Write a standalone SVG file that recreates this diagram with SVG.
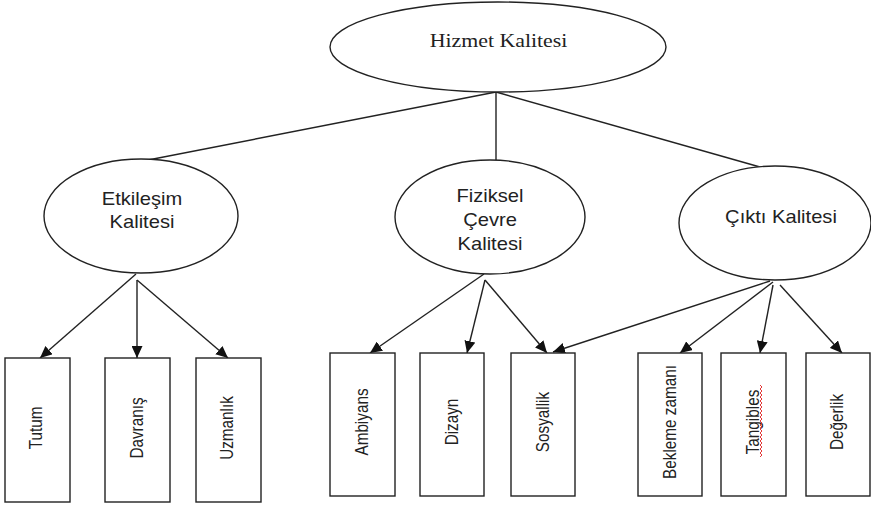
<svg xmlns="http://www.w3.org/2000/svg" width="871" height="506" viewBox="0 0 871 506">
<style>
.n{fill:#fff;stroke:#222;stroke-width:1.4}
.c{stroke:#222;stroke-width:1.4;fill:none}
.s{font-family:"Liberation Sans",Arial,sans-serif;font-size:17.5px;fill:#222;text-anchor:middle}
.v{font-family:"Liberation Sans",Arial,sans-serif;font-size:15.3px;fill:#222;text-anchor:middle}
.t{font-family:"Liberation Serif","Times New Roman",serif;font-size:19px;fill:#222;text-anchor:middle}
</style>
<defs>
<marker id="ah" markerUnits="userSpaceOnUse" markerWidth="12" markerHeight="11" refX="12" refY="5.5" orient="auto">
<path d="M0,0 L12,5.5 L0,11 z" fill="#111"/>
</marker>
</defs>
<rect width="871" height="506" fill="#fff"/>
<g id="connectors">
<line class="c" x1="496" y1="92" x2="496" y2="160"/>
<line class="c" x1="496" y1="92" x2="143" y2="161"/>
<line class="c" x1="496" y1="92" x2="760" y2="167"/>
<line class="c" x1="136" y1="274" x2="40" y2="358" marker-end="url(#ah)"/>
<line class="c" x1="137" y1="280" x2="137" y2="358" marker-end="url(#ah)"/>
<line class="c" x1="137" y1="280" x2="228" y2="358" marker-end="url(#ah)"/>
<line class="c" x1="484" y1="274" x2="370" y2="353" marker-end="url(#ah)"/>
<line class="c" x1="485" y1="280" x2="467" y2="353" marker-end="url(#ah)"/>
<line class="c" x1="485" y1="280" x2="547" y2="353" marker-end="url(#ah)"/>
<line class="c" x1="770" y1="281" x2="553" y2="352" marker-end="url(#ah)"/>
<line class="c" x1="773" y1="282" x2="680" y2="353" marker-end="url(#ah)"/>
<line class="c" x1="773" y1="285" x2="760" y2="353" marker-end="url(#ah)"/>
<line class="c" x1="780" y1="285" x2="842" y2="353" marker-end="url(#ah)"/>
</g>
<g id="hizmet">
<ellipse class="n" cx="498" cy="47" rx="168" ry="45"/>
<text class="t" transform="translate(498.5,47) scale(1.15,1)">Hizmet Kalitesi</text>
</g>
<g id="etkilesim">
<ellipse class="n" cx="141" cy="216" rx="97" ry="57"/>
<text class="s" transform="translate(142,205) scale(1.15,1)">Etkileşim</text>
<text class="s" transform="translate(142,228) scale(1.15,1)">Kalitesi</text>
</g>
<g id="fiziksel">
<ellipse class="n" cx="490" cy="217" rx="95" ry="57"/>
<text class="s" transform="translate(490,202) scale(1.15,1)">Fiziksel</text>
<text class="s" transform="translate(490,226) scale(1.15,1)">Çevre</text>
<text class="s" transform="translate(490,250) scale(1.15,1)">Kalitesi</text>
</g>
<g id="cikti">
<ellipse class="n" cx="775" cy="223" rx="96" ry="57"/>
<text class="s" transform="translate(781,223) scale(1.15,1)">Çıktı Kalitesi</text>
</g>
<g id="tutum">
<rect class="n" x="5" y="358" width="65" height="144"/>
<text class="v" transform="translate(35.5,428) scale(1.2,1) rotate(-90)" y="5.5">Tutum</text>
</g>
<g id="davranis">
<rect class="n" x="105" y="358" width="65" height="144"/>
<text class="v" transform="translate(136.5,428) scale(1.2,1) rotate(-90)" y="5.5">Davranış</text>
</g>
<g id="uzmanlik">
<rect class="n" x="196" y="358" width="65" height="144"/>
<text class="v" transform="translate(226.5,428) scale(1.2,1) rotate(-90)" y="5.5">Uzmanlık</text>
</g>
<g id="ambiyans">
<rect class="n" x="330" y="353" width="65" height="143"/>
<text class="v" transform="translate(361.5,422) scale(1.2,1) rotate(-90)" y="5.5">Ambiyans</text>
</g>
<g id="dizayn">
<rect class="n" x="420" y="353" width="64" height="143"/>
<text class="v" transform="translate(451,422) scale(1.2,1) rotate(-90)" y="5.5">Dizayn</text>
</g>
<g id="sosyallik">
<rect class="n" x="511" y="353" width="64" height="143"/>
<text class="v" transform="translate(542,422) scale(1.2,1) rotate(-90)" y="5.5">Sosyallik</text>
</g>
<g id="bekleme">
<rect class="n" x="638" y="353" width="64" height="143"/>
<text class="v" transform="translate(669,422) scale(1.2,1) rotate(-90)" y="5.5">Bekleme zamanı</text>
</g>
<g id="tangibles">
<rect class="n" x="721" y="353" width="65" height="143"/>
<text class="v" transform="translate(752,422) scale(1.2,1) rotate(-90)" y="5.5">Tangibles</text>
<polyline points="760,385 762,387 760,389 762,391 760,393 762,395 760,397 762,399 760,401 762,403 760,405 762,407 760,409 762,411 760,413 762,415 760,417 762,419 760,421 762,423 760,425 762,427 760,429 762,431 760,433 762,435 760,437 762,439 760,441 762,443 760,445 762,447 760,449 762,451 760,453 762,455 760,457" fill="none" stroke="#e02020" stroke-width="0.9"/>
</g>
<g id="degerlik">
<rect class="n" x="806" y="353" width="64" height="143"/>
<text class="v" transform="translate(836,422) scale(1.2,1) rotate(-90)" y="5.5">Değerlik</text>
</g>
</svg>
